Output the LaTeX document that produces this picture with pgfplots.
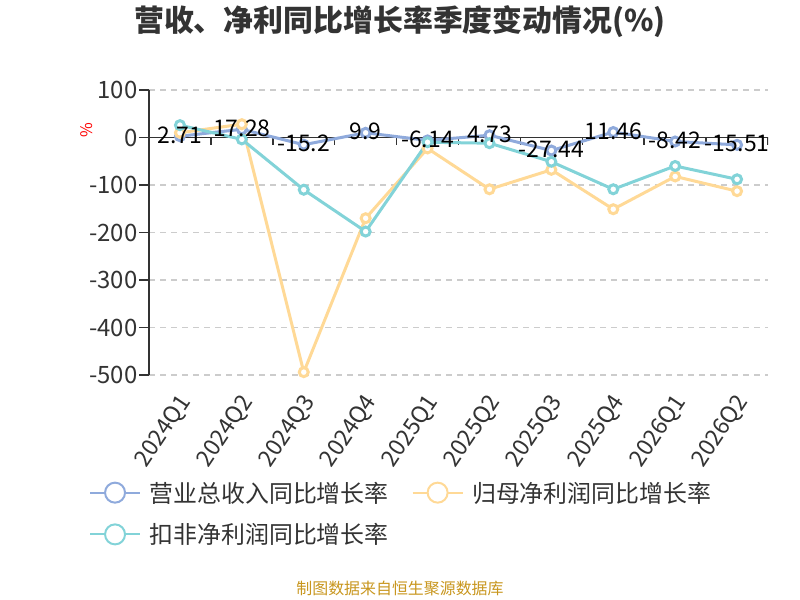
\documentclass[border=0pt]{standalone}
\usepackage{pgfplots}
\pgfplotsset{compat=1.18}
\usepackage{fontspec}
\setmainfont{Noto Sans CJK SC}
\definecolor{cblue}{HTML}{8FAADC}
\definecolor{cyel}{HTML}{FFD996}
\definecolor{cteal}{HTML}{82D3D8}
\definecolor{txt}{HTML}{333333}
\definecolor{gridc}{HTML}{CCCCCC}
\definecolor{foot}{HTML}{C8961E}
\pgfplotstableread{
x rev net ded lab
0 2.71 10 26 2.71
1 17.28 28 -4 17.28
2 -15.2 -494 -110 -15.2
3 9.9 -170 -198 9.9
4 -6.14 -23 -10 -6.14
5 4.73 -109 -12 4.73
6 -27.44 -68 -51 -27.44
7 11.46 -151 -109 11.46
8 -8.42 -82 -60 -8.42
9 -15.51 -113 -88 -15.51
}\datatab
\begin{document}
\begin{tikzpicture}[x=1bp,y=1bp]
\path[use as bounding box] (0,0) rectangle (800,600);
\node[font=\fontsize{30}{33}\selectfont\bfseries, text=txt] at (400,578) {营收、净利同比增长率季度变动情况(\%)};
\node[font=\fontsize{16}{18}\selectfont, text=foot] at (400,11) {制图数据来自恒生聚源数据库};
\begin{axis}[
 at={(149bp,225bp)}, anchor=south west, scale only axis, width=619bp, height=285bp,
 xmin=-0.5, xmax=9.5, ymin=-500, ymax=100,
 ytick={-500,-400,-300,-200,-100,0,100},
 yticklabels={-500,-400,-300,-200,-100,0,100},
 xtick={0,...,9},
 xticklabels={2024Q1,2024Q2,2024Q3,2024Q4,2025Q1,2025Q2,2025Q3,2025Q4,2026Q1,2026Q2},
 axis lines*=left,
 x axis line style={draw=none},
 y axis line style={draw=txt, line width=1.5bp},
 tick align=outside, major tick length=10bp,
 ytick style={draw=txt, line width=1.5bp},
 xtick style={draw=none},
 ymajorgrids,
 grid style={gridc, dash pattern=on 6bp off 5bp, line width=1.3bp},
 tick label style={font=\fontsize{24}{28}\selectfont, text=txt},
 yticklabel style={xshift=2bp},
 xticklabel style={font=\fontsize{23}{26}\selectfont, xshift=8bp, yshift=-10bp, rotate=56, anchor=east},
 ylabel={\%},
 ylabel style={at={(axis description cs:-0.1,0.86)}, anchor=center, text=red, font=\fontsize{16}{18}\selectfont},
 legend columns=2,
 legend cell align=left,
 legend style={draw=none, fill=none, at={(axis description cs:-0.102,-0.36)}, anchor=north west,
   font=\fontsize{24}{28}\selectfont, text=txt,
   /tikz/every even column/.append style={column sep=21bp},
   row sep=16bp},
 legend image code/.code={\draw[line width=2bp] (0bp,0bp) -- (50bp,0bp); \draw[line width=2bp, fill=white] (25bp,0bp) circle (10bp); \path (56bp,0bp);},
 every axis plot/.append style={line width=3bp, mark=o, mark size=4.5bp, mark options={fill=white, line width=2bp, solid}},
]
\draw[txt, line width=1.5bp] (axis cs:-0.5,0) -- (axis cs:9.5,0);
\pgfplotsinvokeforeach{-0.5,0.5,1.5,2.5,3.5,4.5,5.5,6.5,7.5,8.5,9.5}{
  \draw[txt, line width=1.5bp] (axis cs:#1,0) -- ++(0pt,-8bp);
}
\addplot[cblue, mark=*, mark options={fill=white, draw=cblue}] table[x=x, y=rev] {\datatab};
\addlegendentry{营业总收入同比增长率}
\addplot[cyel, mark=*, mark options={fill=white, draw=cyel}] table[x=x, y=net] {\datatab};
\addlegendentry{归母净利润同比增长率}
\addplot[cteal, mark=*, mark options={fill=white, draw=cteal}] table[x=x, y=ded] {\datatab};
\addlegendentry{扣非净利润同比增长率}
\addplot[draw=none, mark=none, forget plot, point meta=explicit symbolic,
  nodes near coords, nodes near coords align={center},
  every node near coord/.append style={anchor=center, yshift=1bp, text=black, font=\fontsize{23}{26}\selectfont}]
  table[x=x, y=rev, meta=lab] {\datatab};
\end{axis}
\end{tikzpicture}
\end{document}
